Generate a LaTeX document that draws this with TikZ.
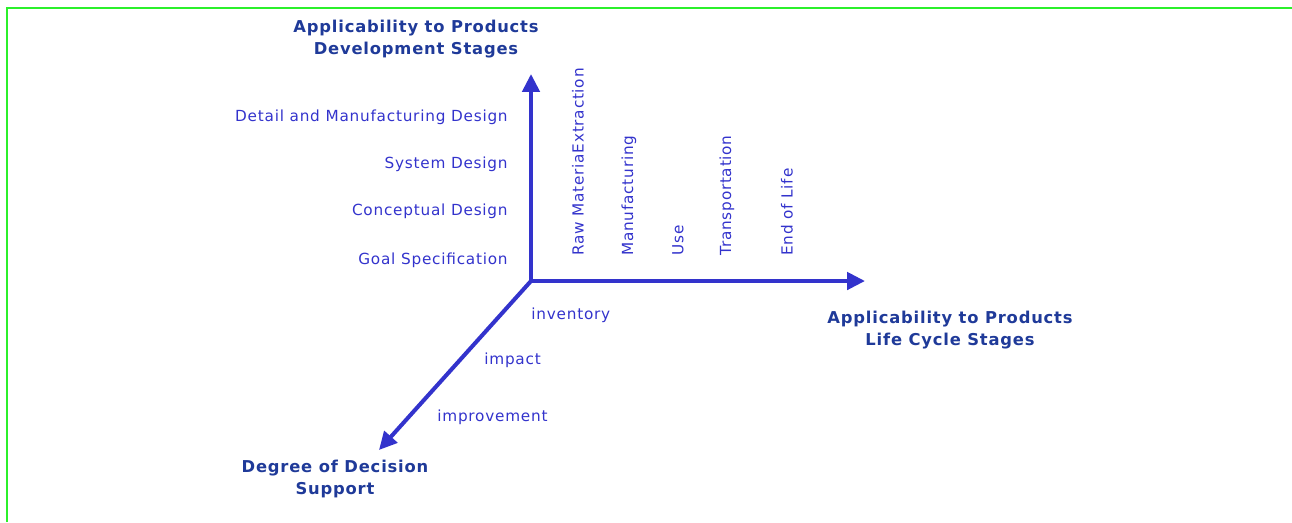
\documentclass[tikz,border=0pt]{standalone}
\usepackage{fontspec}
\setmainfont{DejaVu Sans}[LetterSpace=5]
\usepackage{tikz}
\usetikzlibrary{arrows.meta}
\definecolor{axisblue}{HTML}{3333CC}
\definecolor{titleblue}{HTML}{1F3A99}
\definecolor{framegreen}{HTML}{2BF02B}

\begin{document}
\begin{tikzpicture}[x=0.02cm,y=-0.02cm,
	axis/.style={draw=axisblue, line width=2.3pt, -{Triangle[length=10.2pt,width=9.8pt]}},
	axtitle/.style={text=titleblue, align=center, inner sep=0pt, font=\bfseries\fontsize{9.3}{13}\selectfont},
	stage/.style={text=axisblue, inner sep=0pt, font=\fontsize{8.7}{10}\selectfont}]
				\useasboundingbox (0,0) rectangle (1292,522);
				\draw[framegreen, line width=1.4pt] (7,522) -- (7,8) -- (1292,8);
				% axes
				\coordinate (O) at (531,281);
				\coordinate (dev) at (531,74);
				\coordinate (life) at (865,281);
				\coordinate (dec) at (379,450);
				\draw[axis] (O) -- (dev);
				\draw[axis] (O) -- (life);
				\draw[axis] (O) -- (dec);
				% axis titles
				\node[axtitle] (devtitle) at (416,39) {Applicability to Products\\Development Stages};
				\node[axtitle] (lifetitle) at (950,330) {Applicability to Products\\Life Cycle Stages};
				\node[axtitle] (dectitle) at (335,479) {Degree of Decision\\Support};
				% development stages
				\node[stage, anchor=east] (detail) at (508,117) {Detail and Manufacturing Design};
				\node[stage, anchor=east] (system) at (508,164) {System Design};
				\node[stage, anchor=east] (concept) at (508,211) {Conceptual Design};
				\node[stage, anchor=east] (goal) at (508,260) {Goal Specification};
				% life cycle stages
				\node[stage, rotate=90, anchor=west] (raw) at (578,256) {Raw MateriaExtraction};
				\node[stage, rotate=90, anchor=west] (manuf) at (629,256) {Manufacturing};
				\node[stage, rotate=90, anchor=west] (use) at (678,256) {Use};
				\node[stage, rotate=90, anchor=west] (transp) at (727,256) {Transportation};
				\node[stage, rotate=90, anchor=west] (eol) at (787,256) {End of Life};
				% decision support
				\node[stage, anchor=west] (inv) at (531,315) {inventory};
				\node[stage, anchor=west] (imp) at (484,360) {impact};
				\node[stage, anchor=west] (improve) at (437,417) {improvement};
				\end{tikzpicture}
\end{document}
